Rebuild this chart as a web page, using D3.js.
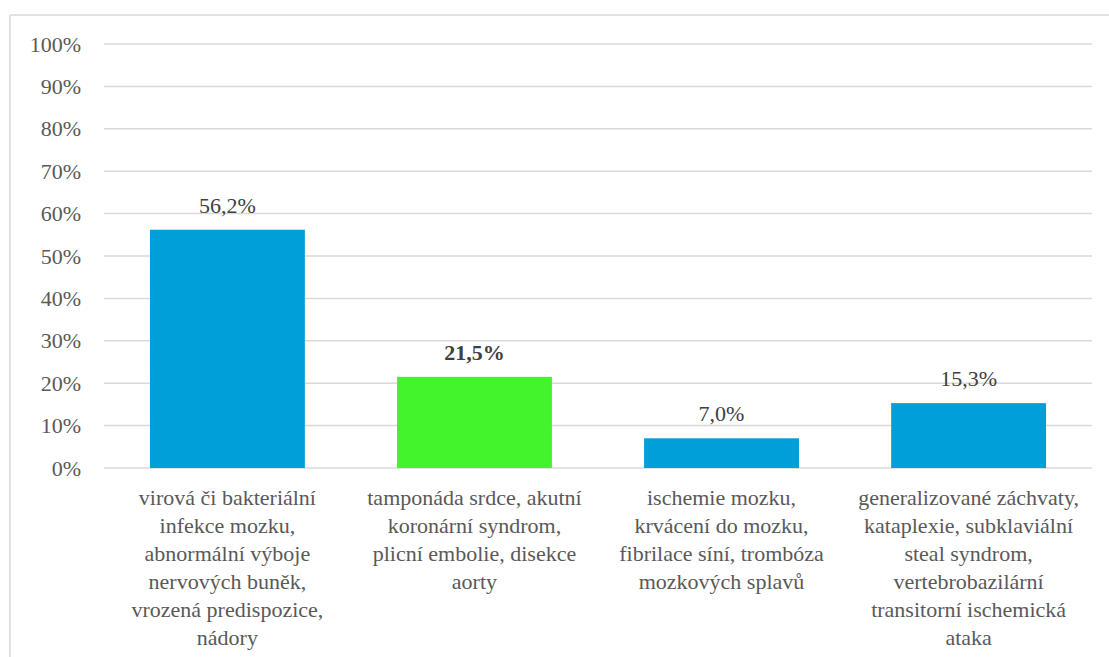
<!DOCTYPE html>
<html><head><meta charset="utf-8"><script src="https://cdn.jsdelivr.net/npm/d3@7"></script></head>
<body style="margin:0">
<svg id="s" width="1109" height="657"></svg>
<script>
// Categories (each entry is a list of wrapped label lines)
const categories = [
  ["virová či bakteriální", "infekce mozku,", "abnormální výboje", "nervových buněk,", "vrozená predispozice,", "nádory"],
  ["tamponáda srdce, akutní", "koronární syndrom,", "plicní embolie, disekce", "aorty"],
  ["ischemie mozku,", "krvácení do mozku,", "fibrilace síní, trombóza", "mozkových splavů"],
  ["generalizované záchvaty,", "kataplexie, subklaviální", "steal syndrom,", "vertebrobazilární", "transitorní ischemická", "ataka"]
];
const values = [56.2, 21.5, 7.0, 15.3];
const valueLabels = ["56,2%", "21,5%", "7,0%", "15,3%"];
const highlighted = [false, true, false, false];
const yTicks = [0, 10, 20, 30, 40, 50, 60, 70, 80, 90, 100];

const svg = d3.select("#s");
const serif = () => `"Liberation Serif", monospace`;

// Outer frame (top and left edges are visible)
svg.append("line").attr("x1", 10).attr("x2", 1109).attr("y1", 15).attr("y2", 15)
  .attr("stroke", "#d9d9d9").attr("stroke-width", 1.5);
svg.append("line").attr("x1", 10).attr("x2", 10).attr("y1", 15).attr("y2", 657)
  .attr("stroke", "#d9d9d9").attr("stroke-width", 1.5);

const plot = { left: 104, right: 1092, top: 44, bottom: 468 };

const x = d3.scaleBand()
  .domain(d3.range(categories.length))
  .range([plot.left, plot.right])
  .paddingInner(0.373)
  .paddingOuter(0.186);

const y = d3.scaleLinear().domain([0, 100]).range([plot.bottom, plot.top]);

// Gridlines
svg.append("g").selectAll("line").data(yTicks).join("line")
  .attr("x1", plot.left).attr("x2", plot.right)
  .attr("y1", d => y(d)).attr("y2", d => y(d))
  .attr("stroke", "#d9d9d9").attr("stroke-width", 1.5);

// Y axis labels
svg.append("g").selectAll("text").data(yTicks).join("text")
  .attr("x", 81)
  .attr("y", d => y(d) + 7.5)
  .attr("text-anchor", "end")
  .attr("font-size", 22)
  .style("font-family", serif)
  .attr("fill", "#595959")
  .text(d => d + "%");

// Bars
svg.append("g").selectAll("rect").data(values).join("rect")
  .attr("x", (d, i) => x(i))
  .attr("width", x.bandwidth())
  .attr("y", d => y(d))
  .attr("height", d => y(0) - y(d))
  .attr("fill", (d, i) => highlighted[i] ? "#43f42c" : "#009fd9");

// Value labels
svg.append("g").selectAll("text").data(values).join("text")
  .attr("x", (d, i) => x(i) + x.bandwidth() / 2)
  .attr("y", d => y(d) - 17)
  .attr("text-anchor", "middle")
  .attr("font-size", 22)
  .attr("font-weight", (d, i) => highlighted[i] ? "bold" : "normal")
  .style("font-family", serif)
  .attr("fill", "#404040")
  .text((d, i) => valueLabels[i]);

// Category labels, one text per line
categories.forEach((lines, i) => {
  svg.append("g").selectAll("text").data(lines).join("text")
    .attr("x", x(i) + x.bandwidth() / 2)
    .attr("y", (d, j) => 505 + j * 28)
    .attr("text-anchor", "middle")
    .attr("font-size", 22)
    .style("font-family", serif)
    .attr("fill", "#595959")
    .text(d => d);
});
</script>
</body>
</html>
